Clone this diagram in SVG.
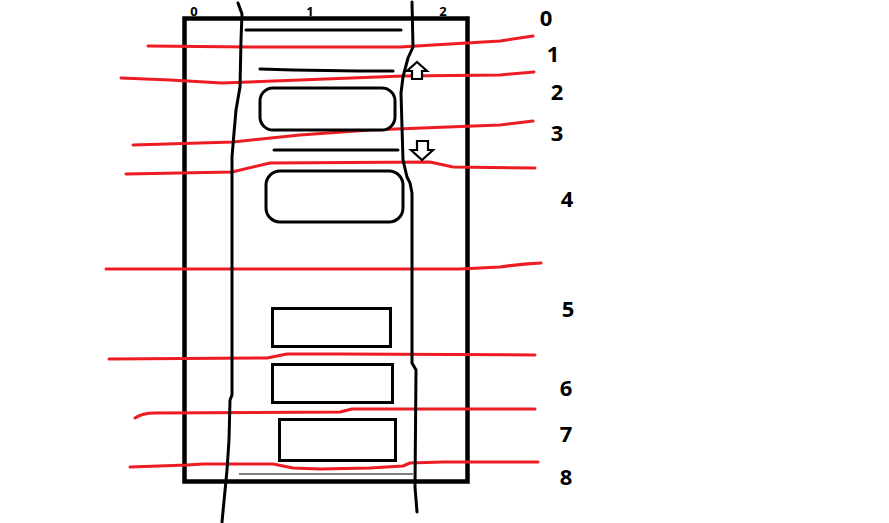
<svg xmlns="http://www.w3.org/2000/svg" width="889" height="523" viewBox="0 0 889 523">
<style>
.red{fill:none;stroke:#ed1c24;stroke-width:3;stroke-linejoin:round;stroke-linecap:round}
.ink{fill:none;stroke:#000;stroke-width:3;stroke-linejoin:round;stroke-linecap:round}
.box{fill:#fff;stroke:#000;stroke-width:3}
.num{font-family:"Open Sans","Liberation Sans",sans-serif;font-weight:700;font-size:22px;fill:#000;text-anchor:middle}
.col{font-family:"Open Sans","Liberation Sans",sans-serif;font-weight:700;font-size:13px;fill:#000;text-anchor:middle}
</style>
<rect width="889" height="523" fill="#fff"/>
<g id="frame">
<rect x="184.5" y="18.5" width="283" height="463" fill="#fff" stroke="#000" stroke-width="4.5"/>
</g>
<g id="red-lines">
<path class="red" d="M148,46 L250,47 L400,47 L450,44 L500,41 Q520,38 533,36"/>
<path class="red" d="M121,78 L170,80 L222,83 L300,80 L403,76 L500,75 L534,72"/>
<path class="red" d="M133,145 L233,142 L300,135 L370,130 L500,125 L533,121"/>
<path class="red" d="M126,174 L232,172 L270,163 L430,162 L453,167 L535,168"/>
<path class="red" d="M106,269 L460,269 L500,267 Q520,264 541,263"/>
<path class="red" d="M109,359 L267,358 L287,354 L337,354 L535,355"/>
<path class="red" d="M135,418 Q142,413 155,413 L340,412 L352,409 L535,409"/>
<path class="red" d="M130,467 L187,465 L203,464 L273,464 L293,468 L320,469 L370,468 L403,466 L410,463 L443,462 L538,462"/>
</g>
<g id="row-0"><path class="ink" d="M246,30 L401,30"/></g>
<g id="row-1"><path class="ink" d="M260,69 L293,70 L358,71 L393,71"/></g>
<g id="row-2"><rect class="box" x="260" y="88" width="135" height="42" rx="13"/></g>
<g id="row-3"><path class="ink" d="M274,150 L398,150"/></g>
<g id="row-4"><rect class="box" x="266" y="171" width="137" height="51" rx="14"/></g>
<g id="row-5"><rect class="box" x="272.5" y="308.5" width="118" height="38"/></g>
<g id="row-6"><rect class="box" x="272.5" y="364.5" width="120" height="38"/></g>
<g id="row-7"><rect class="box" x="279.5" y="419.5" width="116" height="41"/></g>
<g id="row-8"><path d="M239,474 L413,474" stroke="#000" stroke-width="1.2" fill="none"/></g>
<g id="arrow-up"><path d="M417,62 L427,71 L422,71 L422,79 L412,79 L412,71 L407,71 Z" fill="#fff" stroke="#000" stroke-width="2.2" stroke-linejoin="miter"/></g>
<g id="arrow-down"><path d="M417,141 L428,141 L428,150 L433,150 L422,160 L411,150 L417,150 Z" fill="#fff" stroke="#000" stroke-width="2.2" stroke-linejoin="miter"/></g>
<g id="col-lines">
<path class="ink" stroke-width="2.5" d="M238,3 L242,14 L241,40 L240,87 L236,110 L234,133 L232,157 L232,175 L232,395 L230,400 L229,440 L227,470 L222,522"/>
<path class="ink" stroke-width="2.5" d="M412,2 L413,47 L408,58 L403,77 L401,93 L402,127 L403,160 L407,177 L410,183 L412,193 L412,363 L416,370 L415,487 L417,512"/>
</g>
<g id="col-labels">
<text class="col" x="194" y="16">0</text>
<text class="col" x="310" y="16">1</text>
<text class="col" x="443" y="16">2</text>
</g>
<g id="row-labels">
<text class="num" x="546" y="26">0</text>
<text class="num" x="553" y="62">1</text>
<text class="num" x="557" y="100">2</text>
<text class="num" x="557" y="141">3</text>
<text class="num" x="567" y="207">4</text>
<text class="num" x="568" y="317">5</text>
<text class="num" x="566" y="396">6</text>
<text class="num" x="566" y="442">7</text>
<text class="num" x="566" y="485">8</text>
</g>
</svg>
